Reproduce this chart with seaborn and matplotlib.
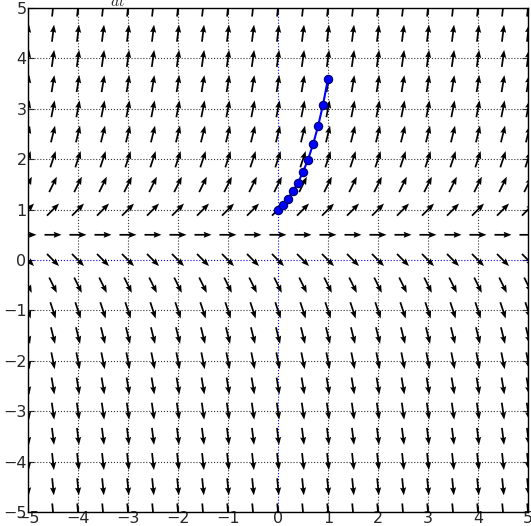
import numpy as np
import pandas as pd
import matplotlib
matplotlib.use("Agg")
import matplotlib.pyplot as plt
import seaborn as sns

sns.set_style("white")
plt.rcParams['font.family'] = ['DejaVu Sans']
plt.rcParams['mathtext.fontset'] = 'cm'

# grid of arrow positions and the slope dy/dt on each row
t_grid = [-5.0, -4.5, -4.0, -3.5, -3.0, -2.5, -2.0, -1.5, -1.0, -0.5, 0.0,
          0.5, 1.0, 1.5, 2.0, 2.5, 3.0, 3.5, 4.0, 4.5, 5.0]
y_grid = [-5.0, -4.5, -4.0, -3.5, -3.0, -2.5, -2.0, -1.5, -1.0, -0.5, 0.0,
          0.5, 1.0, 1.5, 2.0, 2.5, 3.0, 3.5, 4.0, 4.5, 5.0]
row_slopes = [-11, -10, -9, -8, -7, -6, -5, -4, -3, -2, -1,
              0, 1, 2, 3, 4, 5, 6, 7, 8, 9]

# Euler solution points
sol_t = [0.0, 0.1, 0.2, 0.3, 0.4, 0.5, 0.6, 0.7, 0.8, 0.9, 1.0]
sol_y = [1.0, 1.1, 1.22, 1.364, 1.537, 1.744, 1.993, 2.292, 2.650, 3.080, 3.596]

tick_vals = [-5, -4, -3, -2, -1, 0, 1, 2, 3, 4, 5]

fig = plt.figure(figsize=(5.31, 5.26), dpi=100)
ax = fig.add_axes([28 / 531, 14 / 526, 500 / 531, 504 / 526])

T, Y = np.meshgrid(t_grid, y_grid)
S = np.tile(np.array(row_slopes, dtype=float)[:, None], (1, len(t_grid)))
norm = np.sqrt(1 + S ** 2)
L = 0.34
U = L / norm
V = L * S / norm
ax.quiver(T, Y, U, V, angles='xy', scale_units='xy', scale=1, pivot='middle',
          color='black', width=0.0035, headwidth=3.5, headlength=4.5,
          headaxislength=4, zorder=3)

for v in tick_vals:
    if v != 0:
        ax.axvline(v, color='#333333', linestyle=':', linewidth=0.8, zorder=1)
        ax.axhline(v, color='#333333', linestyle=':', linewidth=0.8, zorder=1)
ax.axvline(0, color='blue', linestyle=':', linewidth=0.8, zorder=1)
ax.axhline(0, color='blue', linestyle=':', linewidth=0.8, zorder=1)

df = pd.DataFrame({'t': sol_t, 'y': sol_y})
sns.lineplot(data=df, x='t', y='y', ax=ax, color='blue', linewidth=1.5,
             marker='o', markersize=6, markerfacecolor='blue',
             markeredgecolor='#000066', markeredgewidth=0.8, sort=False,
             zorder=4)

ax.set_xlim(-5, 5)
ax.set_ylim(-5, 5)
ax.set_xticks(tick_vals)
ax.set_yticks(tick_vals)
ax.set_xticklabels([f"\u2212{abs(v)}" if v < 0 else str(v) for v in tick_vals])
ax.set_yticklabels([f"\u2212{abs(v)}" if v < 0 else str(v) for v in tick_vals])
ax.tick_params(direction='in', length=4, width=0.8, labelsize=11.5,
               top=True, right=True, bottom=True, left=True)
ax.tick_params(axis='x', pad=-1)
ax.tick_params(axis='y', pad=1)
ax.set_xlabel('')
ax.set_ylabel('')
for sp in ax.spines.values():
    sp.set_color('black')
    sp.set_linewidth(1.0)

# title mostly cut off at the top edge
fig.text(118 / 531, 1.0 + 9 / 526, r'$\frac{dy}{dt}$', fontsize=16,
         ha='center', va='center')

fig.savefig('out.png', dpi=100)
